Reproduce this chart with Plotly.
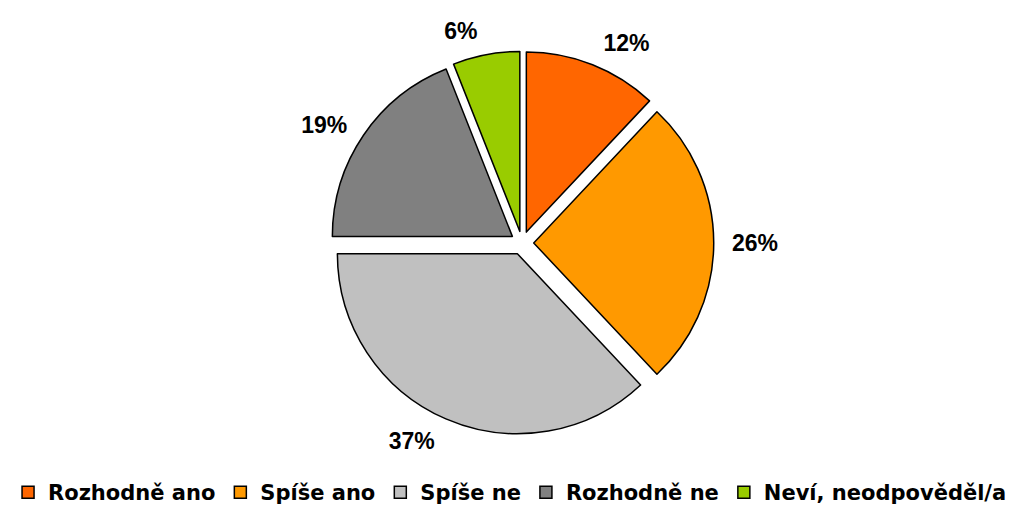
import plotly.graph_objects as go

labels = ["Rozhodně ano", "Spíše ano", "Spíše ne", "Rozhodně ne", "Neví, neodpověděl/a"]
values = [12, 26, 37, 19, 6]
colors = ["#FF6600", "#FF9900", "#C0C0C0", "#808080", "#99CC00"]

FONT = "Arial, Liberation Sans, sans-serif"
LEGEND_FONT = "DejaVu Sans, Arial, sans-serif"
pull = 0.065

fig = go.Figure()

# visible pie (no labels)
fig.add_trace(go.Pie(
    labels=labels,
    values=values,
    sort=False,
    direction="clockwise",
    rotation=0,
    pull=[pull] * len(values),
    marker=dict(colors=colors, line=dict(color="#000000", width=1.5)),
    textinfo="none",
    automargin=False,
    domain=dict(x=[0.1922, 0.8157], y=[0.1551, 0.9143]),
    hoverinfo="label+percent",
))

# slightly larger transparent pie used only to place the outside labels
fig.add_trace(go.Pie(
    labels=labels,
    values=values,
    sort=False,
    direction="clockwise",
    rotation=0,
    pull=[pull] * len(values),
    marker=dict(colors=["rgba(0,0,0,0)"] * len(values), line=dict(width=0)),
    texttemplate="%{value}%",
    textposition="outside",
    automargin=False,
    outsidetextfont=dict(family=FONT, size=23, color="#000000", weight="bold"),
    domain=dict(x=[0.1922, 0.8157], y=[0.1319, 0.9375]),
    showlegend=False,
    hoverinfo="skip",
))

fig.update_layout(
    width=1020,
    height=505,
    margin=dict(l=0, r=0, t=0, b=0, autoexpand=False),
    paper_bgcolor="#FFFFFF",
    plot_bgcolor="#FFFFFF",
    showlegend=True,
    legend=dict(
        orientation="h",
        x=0.4922,
        xanchor="center",
        y=0.0,
        yanchor="bottom",
        font=dict(family=LEGEND_FONT, size=21, color="#000000", weight="bold"),
        itemwidth=30,
        tracegroupgap=0,
    ),
)

fig.write_html("out.html")
